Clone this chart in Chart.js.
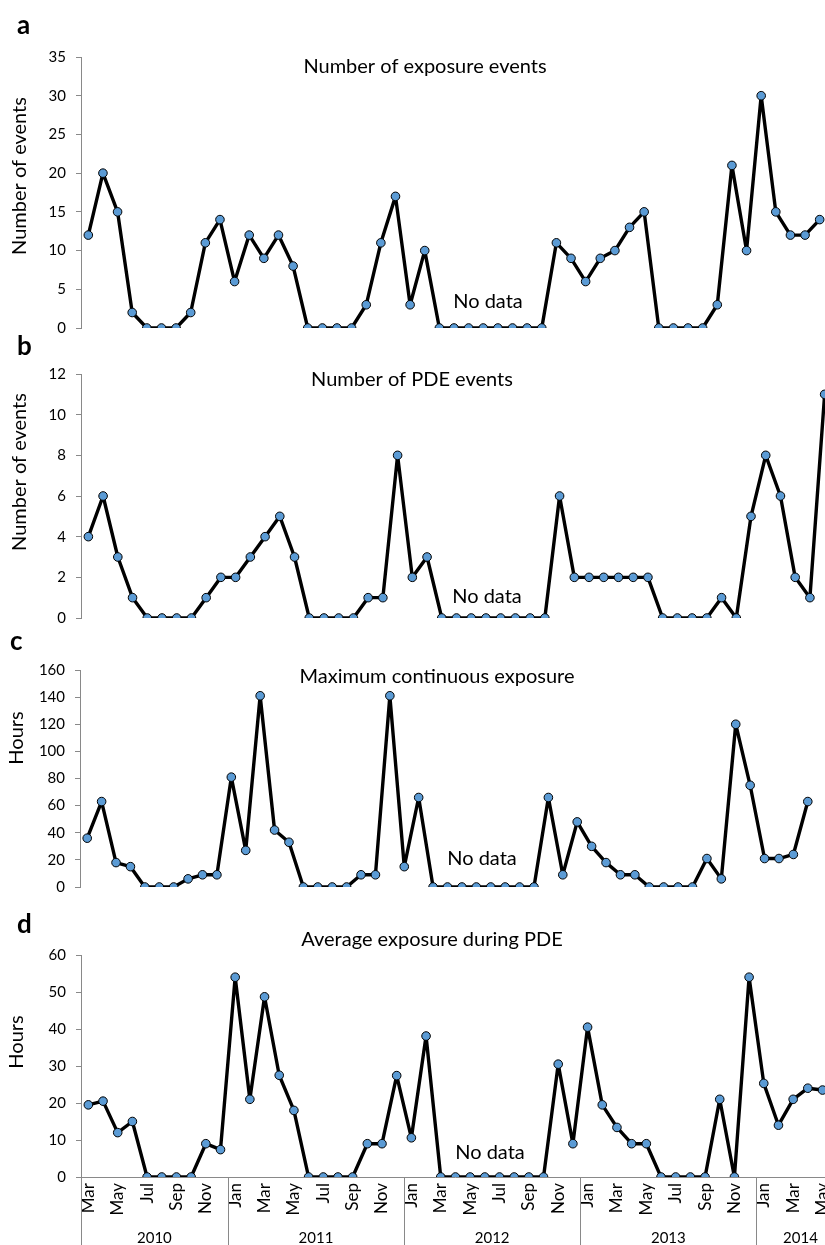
<!DOCTYPE html>
<html lang="en">
<head>
<meta charset="UTF-8">
<title>Exposure and PDE events</title>
<script src="https://cdn.jsdelivr.net/npm/chart.js"></script>
<style>
  body { margin: 0; width: 825px; height: 1245px; overflow: hidden; background: #fff; position: relative; }
  canvas { position: absolute; left: 0; }
</style>
</head>
<body>
<canvas id="chartA" width="840" height="350" style="top:0px"></canvas>
<canvas id="chartB" width="840" height="310" style="top:330px"></canvas>
<canvas id="chartC" width="840" height="290" style="top:620px"></canvas>
<canvas id="chartD" width="849" height="345" style="top:900px"></canvas>
<script>
// months Mar 2010 .. May 2014
var months = [
  'Mar','Apr','May','Jun','Jul','Aug','Sep','Oct','Nov','Dec',
  'Jan','Feb','Mar','Apr','May','Jun','Jul','Aug','Sep','Oct','Nov','Dec',
  'Jan','Feb','Mar','Apr','May','Jun','Jul','Aug','Sep','Oct','Nov','Dec',
  'Jan','Feb','Mar','Apr','May','Jun','Jul','Aug','Sep','Oct','Nov','Dec',
  'Jan','Feb','Mar','Apr','May'
];
var yearNames = ['2010', '2011', '2012', '2013', '2014'];
// index of first month of each year; last entry closes 2014 (runs past the crop)
var yearBounds = [0, 10, 22, 34, 46, 52];

var exposureEvents = [
  12, 20, 15, 2, 0, 0, 0, 2, 11, 14,
  6, 12, 9, 12, 8, 0, 0, 0, 0, 3, 11, 17,
  3, 10, 0, 0, 0, 0, 0, 0, 0, 0, 11, 9,
  6, 9, 10, 13, 15, 0, 0, 0, 0, 3, 21, 10,
  30, 15, 12, 12, 14
];
var pdeEvents = [
  4, 6, 3, 1, 0, 0, 0, 0, 1, 2,
  2, 3, 4, 5, 3, 0, 0, 0, 0, 1, 1, 8,
  2, 3, 0, 0, 0, 0, 0, 0, 0, 0, 6, 2,
  2, 2, 2, 2, 2, 0, 0, 0, 0, 1, 0, 5,
  8, 6, 2, 1, 11
];
var maxContinuous = [
  36, 63, 18, 15, 0, 0, 0, 6, 9, 9,
  81, 27, 141, 42, 33, 0, 0, 0, 0, 9, 9, 141,
  15, 66, 0, 0, 0, 0, 0, 0, 0, 0, 66, 9,
  48, 30, 18, 9, 9, 0, 0, 0, 0, 21, 6, 120,
  75, 21, 21, 24, 63
];
var avgExposurePDE = [
  19.5, 20.5, 12, 15, 0, 0, 0, 0, 9, 7.4,
  54, 21, 48.7, 27.5, 18, 0, 0, 0, 0, 9, 9, 27.4,
  10.6, 38.1, 0, 0, 0, 0, 0, 0, 0, 0, 30.5, 9,
  40.5, 19.5, 13.4, 9, 9, 0, 0, 0, 0, 21, 0, 54,
  25.3, 14, 21, 24, 23.5
];

var axisColor = '#898989';
var textColor = '#000';
var fontName = 'Lato';

// letter, title, y label and "No data" note
var panelText = {
    id: 'panelText',
    afterDraw: function (chart, args, o) {
        var ctx = chart.ctx;
        ctx.save();
        ctx.fillStyle = textColor;
        ctx.textBaseline = 'middle';
        ctx.font = 'bold 26px ' + fontName;
        ctx.textAlign = 'left';
        ctx.fillText(o.letter, o.letterX, o.letterY);
        ctx.font = '20px ' + fontName;
        ctx.textAlign = 'center';
        ctx.fillText(o.title, o.titleX, o.titleY);
        ctx.fillText('No data', o.noteX, o.noteY);
        ctx.translate(o.yTitleX, o.yTitleY);
        ctx.rotate(-Math.PI / 2);
        ctx.fillText(o.yTitle, 0, 0);
        ctx.restore();
    }
};

// year separators and labels under the month ticks
var yearGroups = {
    id: 'yearGroups',
    afterDraw: function (chart, args, o) {
        if (!o.show) return;
        var x = chart.scales.x;
        var ctx = chart.ctx;
        var x0 = x.getPixelForValue(0);
        var step = x.getPixelForValue(1) - x0;
        var edge = function (i) { return x0 + (i - 0.5) * step; };
        ctx.save();
        ctx.strokeStyle = axisColor;
        ctx.lineWidth = 1;
        ctx.fillStyle = textColor;
        ctx.font = '15px ' + fontName;
        ctx.textAlign = 'center';
        ctx.textBaseline = 'middle';
        for (var k = 0; k < yearNames.length; k++) {
            var l = edge(yearBounds[k]);
            var r = edge(yearBounds[k + 1]);
            var px = Math.round(l) + 0.5;
            ctx.beginPath();
            ctx.moveTo(px, chart.chartArea.bottom);
            ctx.lineTo(px, chart.height);
            ctx.stroke();
            ctx.fillText(yearNames[k], (l + r) / 2, o.labelY);
        }
        ctx.restore();
    }
};

function makePanel(id, values, yMax, yStep, p) {
    var ctx = document.getElementById(id).getContext('2d');
    var showX = !!p.showX;
    return new Chart(ctx, {
        type: 'line',
        data: {
            labels: months,
            datasets: [{
                data: values,
                borderColor: '#000',
                borderWidth: 3.4,
                borderJoinStyle: 'round',
                borderCapStyle: 'round',
                backgroundColor: '#5b9bd5',
                pointBackgroundColor: '#5b9bd5',
                pointBorderColor: '#000',
                pointBorderWidth: 1,
                pointRadius: 4.3,
                tension: 0,
                fill: false
            }]
        },
        options: {
            responsive: false,
            animation: false,
            devicePixelRatio: 1,
            layout: { padding: { top: p.padTop, bottom: p.padBottom, right: p.padRight, left: 0 } },
            plugins: {
                legend: { display: false },
                tooltip: { enabled: false },
                panelText: p.text,
                yearGroups: { show: showX, labelY: p.yearY }
            },
            scales: {
                x: {
                    type: 'category',
                    offset: true,
                    display: showX,
                    grid: { display: false, drawTicks: false },
                    border: { display: true, color: axisColor, width: 1 },
                    ticks: {
                        autoSkip: false,
                        minRotation: 90,
                        maxRotation: 90,
                        padding: 6,
                        color: textColor,
                        font: { family: fontName, size: 17 },
                        callback: function (v, i) { return i % 2 === 0 ? months[i] : ''; }
                    },
                    afterFit: function (s) { if (showX) s.height = p.xHeight; }
                },
                y: {
                    min: 0,
                    max: yMax,
                    grid: { display: true, drawOnChartArea: false, drawTicks: true, tickLength: 5, color: axisColor },
                    border: { display: true, color: axisColor, width: 1 },
                    ticks: {
                        stepSize: yStep,
                        padding: 10,
                        color: textColor,
                        font: { family: fontName, size: 15 }
                    },
                    afterFit: function (s) { s.width = p.axisX; }
                }
            }
        },
        plugins: [panelText, yearGroups]
    });
}

makePanel('chartA', exposureEvents, 35, 5, {
    padTop: 57, padBottom: 22, padRight: 13, axisX: 81,
    text: { letter: 'a', letterX: 17, letterY: 26, title: 'Number of exposure events', titleX: 425, titleY: 67,
            yTitle: 'Number of events', yTitleX: 20, yTitleY: 176, noteX: 488, noteY: 302 }
});
makePanel('chartB', pdeEvents, 12, 2, {
    padTop: 44, padBottom: 22, padRight: 8, axisX: 81,
    text: { letter: 'b', letterX: 17, letterY: 17, title: 'Number of PDE events', titleX: 412, titleY: 50,
            yTitle: 'Number of events', yTitleX: 20, yTitleY: 142, noteX: 487, noteY: 267 }
});
makePanel('chartC', maxContinuous, 160, 20, {
    padTop: 50, padBottom: 23, padRight: 25, axisX: 80,
    text: { letter: 'c', letterX: 10, letterY: 22, title: 'Maximum continuous exposure', titleX: 437, titleY: 57,
            yTitle: 'Hours', yTitleX: 17, yTitleY: 118, noteX: 482, noteY: 239 }
});
makePanel('chartD', avgExposurePDE, 60, 10, {
    padTop: 55, padBottom: 0, padRight: 9, axisX: 81, showX: true, xHeight: 68, yearY: 338,
    text: { letter: 'd', letterX: 17, letterY: 25, title: 'Average exposure during PDE', titleX: 432, titleY: 40,
            yTitle: 'Hours', yTitleX: 17, yTitleY: 142, noteX: 490, noteY: 253 }
});
</script>
</body>
</html>
